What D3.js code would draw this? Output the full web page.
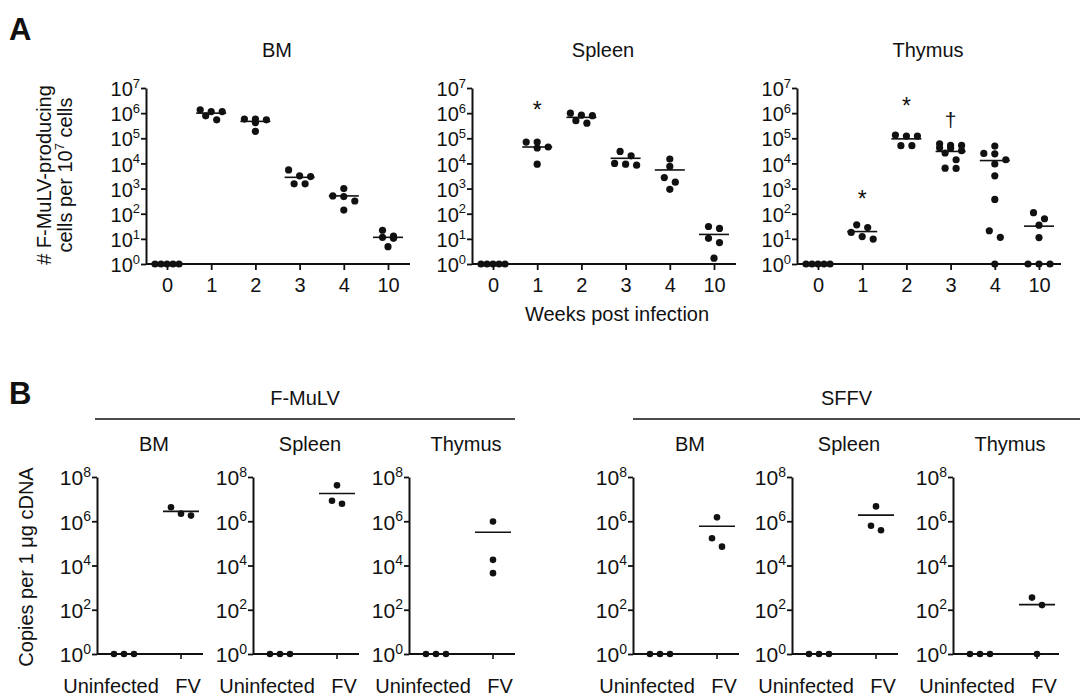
<!DOCTYPE html>
<html>
<head>
<meta charset="utf-8">
<script src="https://cdn.jsdelivr.net/npm/d3@7"></script>
<style>
  body { margin: 0; background: #fff; }
  text { font-family: "Liberation Sans", Arial, sans-serif; fill: #111; }
</style>
</head>
<body>
<script>
const W = 1084, H = 697;

// ---- panel A data (cells per 10^7) ----
const weeks = ["0", "1", "2", "3", "4", "10"];

const bmA = [
  [1, 1, 1, 1, 1],
  [1.15e6, 1.35e6, 1.15e6, 5.4e5, 7.8e5],
  [5.8e5, 5.8e5, 5.4e5, 4.2e5, 1.9e5],
  [5.5e3, 3.0e3, 3.2e3, 1.55e3, 1.55e3],
  [1.0e3, 4.8e2, 5.1e2, 3.2e2, 1.4e2],
  [22, 11.5, 13, 10.5, 4.9]
];
const bmALines = [1, 1.0e6, 4.7e5, 2.8e3, 5.1e2, 11.5];

const spleenA = [
  [1, 1, 1, 1, 1],
  [7.1e4, 4.5e4, 7.1e4, 4.1e4, 9.3e3],
  [7.9e5, 1.0e6, 8.3e5, 4.0e5, 5.0e5],
  [3.0e4, 2.0e4, 1.0e4, 8.5e3, 9.3e3],
  [1.5e4, 7.6e3, 2.75e3, 1.8e3, 9.3e2],
  [31, 26, 10.5, 7.1, 1.7]
];
const spleenALines = [1, 4.5e4, 6.8e5, 1.6e4, 5.5e3, 15];

const thymusA = [
  [1, 1, 1, 1, 1],
  [36, 28, 18, 9.8, 12.3],
  [1.23e5, 1.35e5, 1.23e5, 5.1e4, 5.1e4],
  [6.0e4, 5.2e4, 5.2e4, 4.2e4, 4.0e4, 3.2e4, 2.6e4, 1.4e4, 6.5e3, 6.3e3],
  [4.9e4, 2.4e4, 2.5e4, 1.4e4, 9.5e3, 3.2e3, 3.7e2, 21, 11.5, 1],
  [110, 63, 35, 11.2, 1, 1, 1]
];
const thymusALines = [1, 19.5, 9.5e4, 3.0e4, 1.3e4, 32];

const tissues = ["BM", "Spleen", "Thymus"];
const aTicks = [1, 10, 1e2, 1e3, 1e4, 1e5, 1e6, 1e7];

// significance marks: [tissue index, week, symbol, height value]
const aMarks = [
  [1, "1", "*", 3.2e6],
  [2, "1", "*", 9e2],
  [2, "2", "*", 4.5e6],
  [2, "3", "\u2020", 6e5]
];

// ---- panel B data (copies per 1 µg cDNA) ----
const groupsB = ["Uninfected", "FV"];
const virusesB = ["F-MuLV", "SFFV"];
const bTicks = [1, 1e2, 1e4, 1e6, 1e8];

const fmulvB = [
  [[1, 1, 1], [4.3e6, 1.8e6, 2.2e6]],
  [[1, 1, 1], [4.2e7, 6.2e6, 8.5e6]],
  [[1, 1, 1], [9.8e5, 1.8e4, 4.5e3]]
];
const fmulvBLines = [[null, 2.8e6], [null, 1.8e7], [null, 3.2e5]];

const sffvB = [
  [[1, 1, 1], [1.5e6, 1.7e5, 7.1e4]],
  [[1, 1, 1], [4.7e6, 6.3e5, 3.9e5]],
  [[1, 1, 1], [355, 162, 1]]
];
const sffvBLines = [[null, 5.9e5], [null, 1.9e6], [null, 170]];

// ---------------------------------------------------------------
const svg = d3.select("body").append("svg")
  .attr("width", W).attr("height", H);

// spread points of similar height horizontally, GraphPad style
function swarm(vals, y, spacing, maxW, near) {
  const pts = vals.map(v => ({ v, py: y(v) })).sort((a, b) => a.py - b.py);
  const rows = [];
  pts.forEach(p => {
    const row = rows[rows.length - 1];
    if (row && (p.py - row[0].py < 0.5 || (p.py - row[0].py < near && row.length < 3))) row.push(p);
    else rows.push([p]);
  });
  rows.forEach(row => {
    const n = row.length;
    const s = n > 1 ? Math.min(spacing, maxW / (n - 1)) : 0;
    row.forEach((p, i) => { p.dx = (i - (n - 1) / 2) * s; });
  });
  return pts;
}

function yAxisLog(g, y, ticks, fs, ss) {
  g.call(d3.axisLeft(y).tickValues(ticks).tickSize(5).tickSizeOuter(0).tickFormat(() => ""));
  g.select(".domain").attr("stroke-width", 2).attr("stroke", "#111");
  g.selectAll(".tick line").attr("stroke-width", 1.8).attr("stroke", "#111");
  g.selectAll(".tick text").each(function (d) {
    const t = d3.select(this)
      .attr("x", -6).attr("dy", "0.38em")
      .attr("font-size", fs).attr("text-anchor", "end").attr("fill", "#111");
    t.text("10");
    t.append("tspan").attr("dy", -fs * 0.42).attr("font-size", ss)
      .text(Math.round(Math.log10(d)));
  });
}

const FS = 20;

// ---- Panel A ----
svg.append("text").attr("x", 9).attr("y", 40)
  .attr("font-size", 31).attr("font-weight", "bold").text("A");

const aX0 = [146, 472, 797];
const aData = [bmA, spleenA, thymusA];
const aLines = [bmALines, spleenALines, thymusALines];
const yA = d3.scaleLog().domain([1, 1e7]).range([264, 88]);

aX0.forEach((x0, k) => {
  const g = svg.append("g");
  const x = d3.scalePoint().domain(weeks).range([x0 + 21, x0 + 242]);

  g.append("text").attr("x", x0 + 131).attr("y", 57)
    .attr("text-anchor", "middle").attr("font-size", FS).text(tissues[k]);

  // x baseline + ticks
  g.append("line").attr("x1", x0).attr("x2", x0 + 264)
    .attr("y1", yA(1)).attr("y2", yA(1)).attr("stroke", "#111").attr("stroke-width", 2);
  const xa = g.append("g").attr("transform", `translate(0,${yA(1)})`)
    .call(d3.axisBottom(x).tickSize(6).tickSizeOuter(0));
  xa.select(".domain").remove();
  xa.selectAll(".tick line").attr("stroke", "#111").attr("stroke-width", 1.8);
  xa.selectAll(".tick text").attr("font-size", FS).attr("dy", "0.95em").attr("fill", "#111");

  const ya = g.append("g").attr("transform", `translate(${x0},0)`);
  yAxisLog(ya, yA, aTicks, FS, 13);

  aData[k].forEach((vals, i) => {
    const cx = x(weeks[i]);
    const pts = swarm(vals, yA, 11, 24, 7);
    g.selectAll(null).data(pts).join("circle")
      .attr("cx", p => cx + p.dx).attr("cy", p => p.py)
      .attr("r", 3.6).attr("fill", "#111");
    const m = aLines[k][i];
    if (i > 0) {
      g.append("line").attr("x1", cx - 15).attr("x2", cx + 15)
        .attr("y1", yA(m)).attr("y2", yA(m))
        .attr("stroke", "#111").attr("stroke-width", 1.6);
    }
  });

  aMarks.filter(d => d[0] === k).forEach(d => {
    g.append("text").attr("x", x(d[1])).attr("y", yA(d[3]))
      .attr("text-anchor", "middle").attr("dy", d[2] === "*" ? "0.75em" : "0.4em")
      .attr("font-size", d[2] === "*" ? 23 : 21).text(d[2]);
  });
});

// y label A
const yl = svg.append("text").attr("transform", "translate(51,175) rotate(-90)")
  .attr("text-anchor", "middle").attr("font-size", FS);
yl.append("tspan").attr("x", 0).attr("dy", 0).text("# F-MuLV-producing");
yl.append("tspan").attr("x", 0).attr("dy", 21).text("cells per 10");
yl.append("tspan").attr("dy", -8).attr("font-size", 13).text("7");
yl.append("tspan").attr("dy", 8).text(" cells");

svg.append("text").attr("x", 617).attr("y", 321)
  .attr("text-anchor", "middle").attr("font-size", FS).text("Weeks post infection");

// ---- Panel B ----
svg.append("text").attr("x", 9).attr("y", 404)
  .attr("font-size", 31).attr("font-weight", "bold").text("B");

const yB = d3.scaleLog().domain([1, 1e8]).range([654, 477]);
const bX0 = [[97, 253, 409], [633, 792, 953]];
const bData = [fmulvB, sffvB];
const bLines = [fmulvBLines, sffvBLines];
const headerSpan = [[95, 515], [633, 1080]];

virusesB.forEach((vname, v) => {
  const [h0, h1] = headerSpan[v];
  svg.append("text").attr("x", (h0 + h1) / 2 - (v === 1 ? 10 : 0)).attr("y", 405)
    .attr("text-anchor", "middle").attr("font-size", FS).text(vname);
  svg.append("line").attr("x1", h0).attr("x2", h1).attr("y1", 419).attr("y2", 419)
    .attr("stroke", "#111").attr("stroke-width", 1.6);

  bX0[v].forEach((x0, k) => {
    const g = svg.append("g");
    const x = d3.scalePoint().domain(groupsB).range([x0 + 27, x0 + 84]);

    g.append("text").attr("x", x0 + 57).attr("y", 451)
      .attr("text-anchor", "middle").attr("font-size", FS).text(tissues[k]);

    g.append("line").attr("x1", x0).attr("x2", x0 + 106)
      .attr("y1", yB(1)).attr("y2", yB(1)).attr("stroke", "#111").attr("stroke-width", 2);
    g.append("line").attr("x1", x("FV")).attr("x2", x("FV"))
      .attr("y1", yB(1)).attr("y2", yB(1) + 5).attr("stroke", "#111").attr("stroke-width", 1.6);

    g.selectAll(null).data(groupsB).join("text")
      .attr("x", d => x(d) + (d === "FV" ? 7 : -13)).attr("y", 693)
      .attr("text-anchor", "middle").attr("font-size", FS).text(d => d);

    const ya = g.append("g").attr("transform", `translate(${x0},0)`);
    yAxisLog(ya, yB, bTicks, 21, 14);

    bData[v][k].forEach((vals, i) => {
      const cx = x(groupsB[i]);
      const pts = swarm(vals, yB, 10, 22, 9);
      g.selectAll(null).data(pts).join("circle")
        .attr("cx", p => cx + p.dx).attr("cy", p => p.py)
        .attr("r", 3.3).attr("fill", "#111");
      const m = bLines[v][k][i];
      if (m != null) {
        g.append("line").attr("x1", cx - 18).attr("x2", cx + 18)
          .attr("y1", yB(m)).attr("y2", yB(m))
          .attr("stroke", "#111").attr("stroke-width", 1.6);
      }
    });
  });
});

svg.append("text").attr("transform", "translate(33,567) rotate(-90)")
  .attr("text-anchor", "middle").attr("font-size", FS).text("Copies per 1 \u03bcg cDNA");
</script>
</body>
</html>
